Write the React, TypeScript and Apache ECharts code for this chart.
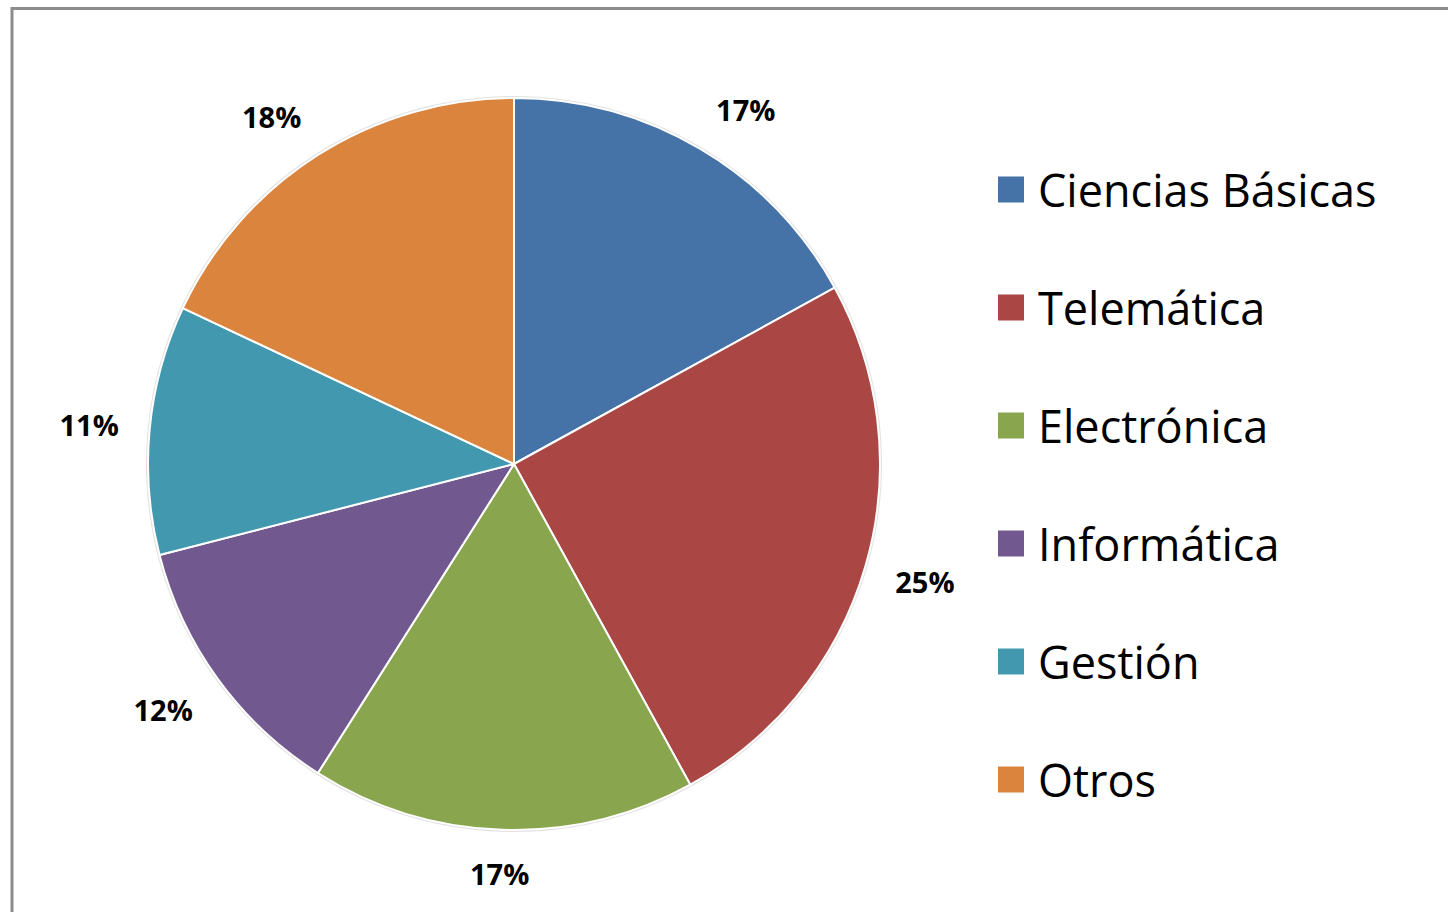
import React, { useEffect, useRef } from "react";
import * as echarts from "echarts";

const categories = ["Ciencias Básicas", "Telemática", "Electrónica", "Informática", "Gestión", "Otros"];
const values = [17, 25, 17, 12, 11, 18];
const colors = ["#4572A7", "#AA4643", "#89A54E", "#71588F", "#4198AF", "#DB843D"];

const CX = 514;
const CY = 464;
const R = 366;
const LABEL_DIST = 397;
const LABEL_FONT = 29;

function clamp(v: number) {
  return Math.max(-1, Math.min(1, v));
}

export default function App() {
  const ref = useRef<HTMLDivElement>(null);
  useEffect(() => {
    if (!ref.current) return;
    const chart = echarts.init(ref.current, null, { renderer: "svg" });
    const total = values.reduce((a, b) => a + b, 0);
    const mids: number[] = [];
    let acc = 0;
    values.forEach((v) => {
      mids.push(((acc + v / 2) / total) * Math.PI * 2);
      acc += v;
    });
    chart.setOption({
      animation: false,
      backgroundColor: "#ffffff",
      color: colors,
      graphic: [
        {
          type: "rect",
          shape: { x: 12, y: 8.5, width: 1600, height: 1000 },
          style: { fill: "none", stroke: "#8c8c8c", lineWidth: 3 },
          silent: true,
          z: 0,
        },
        {
          type: "circle",
          shape: { cx: CX, cy: CY, r: R + 2 },
          style: { fill: "#e2e2e2" },
          silent: true,
          z: 0,
        },
      ],
      legend: {
        orient: "vertical",
        left: 996,
        top: 167,
        padding: 0,
        icon: "rect",
        itemWidth: 28,
        itemHeight: 28,
        itemGap: 73,
        textStyle: {
          fontFamily: "Open Sans",
          fontSize: 45,
          color: "#000000",
          padding: [0, 0, 0, 8],
        },
        data: categories,
      },
      series: [
        {
          type: "pie",
          center: [CX, CY],
          radius: R,
          startAngle: 90,
          clockwise: true,
          z: 2,
          itemStyle: { borderColor: "#ffffff", borderWidth: 2 },
          label: {
            show: true,
            position: "outside",
            formatter: "{c}%",
            fontFamily: "Open Sans",
            fontWeight: "bold",
            fontSize: LABEL_FONT,
            color: "#000000",
          },
          labelLine: { show: false },
          labelLayout: (params: any) => {
            const a = mids[params.dataIndex];
            const s = Math.sin(a);
            const c = Math.cos(a);
            const w = params.labelRect.width;
            const h = LABEL_FONT * 0.85;
            const px = CX + LABEL_DIST * s;
            const py = CY - LABEL_DIST * c;
            return {
              x: px + (w / 2) * clamp(2 * s),
              y: py + (h / 2) * clamp(-2 * c),
              align: "center",
              verticalAlign: "middle",
            };
          },
          emphasis: { disabled: true },
          data: categories.map((name, i) => ({ name, value: values[i] })),
        },
      ],
    });
    return () => chart.dispose();
  }, []);
  return (
    <div
      ref={ref}
      style={{ position: "fixed", left: 0, top: 0, width: 1448, height: 912 }}
    />
  );
}
